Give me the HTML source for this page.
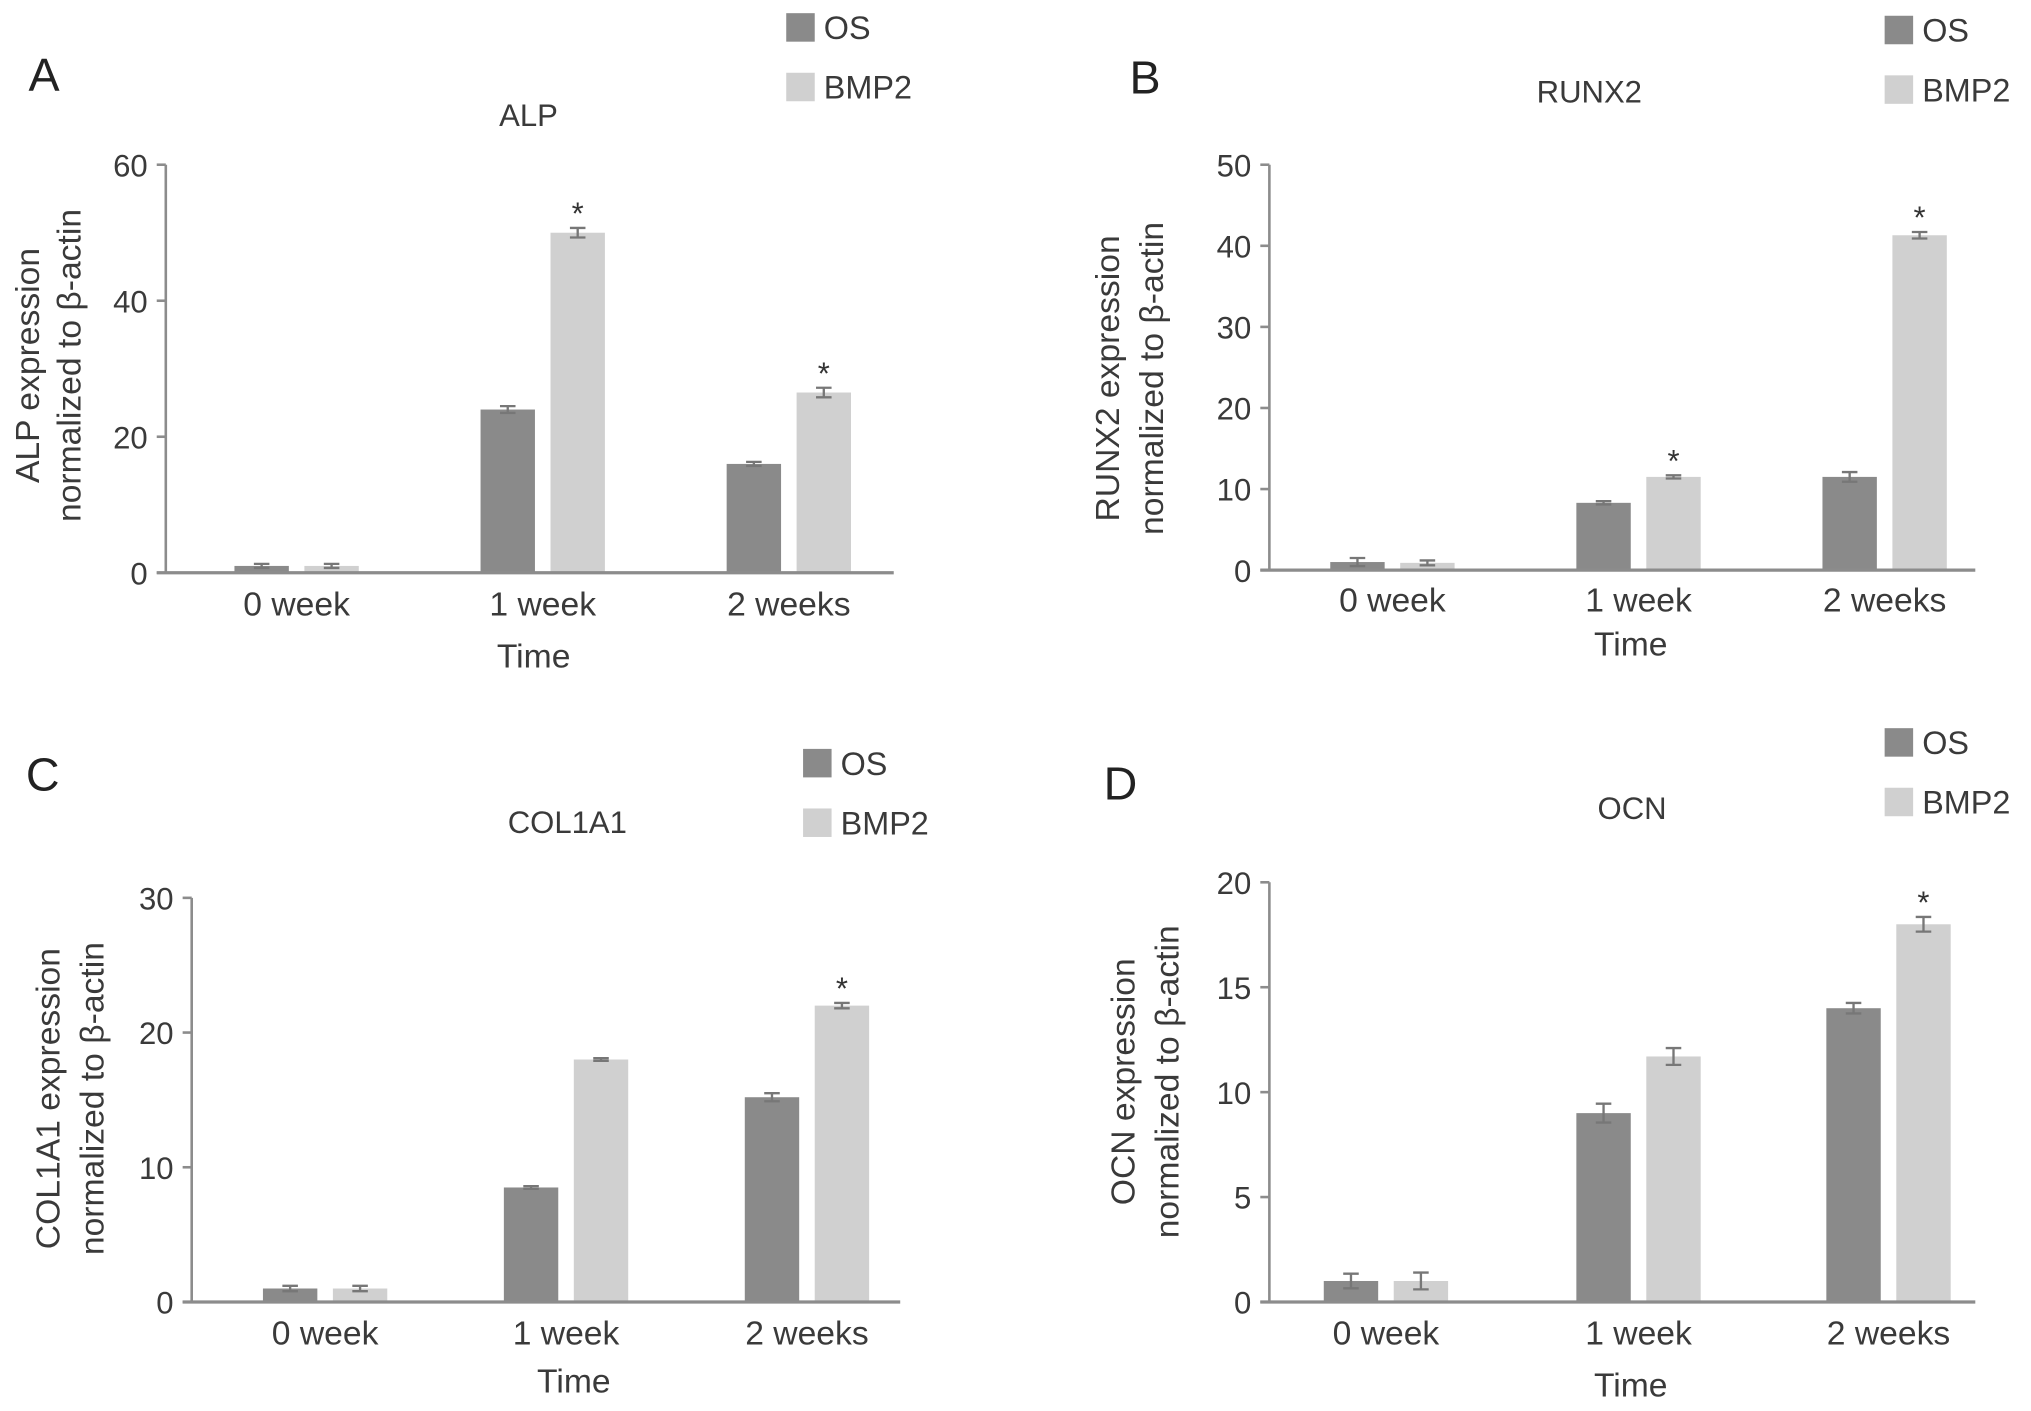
<!DOCTYPE html>
<html><head><meta charset="utf-8"><style>
html,body{margin:0;padding:0;background:#fff;}
svg{display:block;font-family:"Liberation Sans",sans-serif;}
</style></head><body>
<svg id="fig" width="2031" height="1411" viewBox="0 0 1568 1089" xmlns="http://www.w3.org/2000/svg"></svg>
<script>
const categories = ["0 week", "1 week", "2 weeks"];
const alpOS = [1, 24, 16];
const alpBMP = [1, 50, 26.5];
const alpOSErr = [0.3, 0.5, 0.3];
const alpBMPErr = [0.3, 0.7, 0.7];
const alpStars = [false, true, true];
const runxOS = [1, 8.3, 11.5];
const runxBMP = [0.9, 11.5, 41.3];
const runxOSErr = [0.5, 0.2, 0.6];
const runxBMPErr = [0.3, 0.2, 0.4];
const runxStars = [false, true, true];
const colOS = [1, 8.5, 15.2];
const colBMP = [1, 18, 22];
const colOSErr = [0.2, 0.1, 0.3];
const colBMPErr = [0.2, 0.1, 0.2];
const colStars = [false, false, true];
const ocnOS = [1, 9, 14];
const ocnBMP = [1, 11.7, 18];
const ocnOSErr = [0.35, 0.45, 0.25];
const ocnBMPErr = [0.4, 0.4, 0.35];
const ocnStars = [false, false, true];
const alpTicks = [0, 20, 40, 60];
const runxTicks = [0, 10, 20, 30, 40, 50];
const colTicks = [0, 10, 20, 30];
const ocnTicks = [0, 5, 10, 15, 20];

const NS = "http://www.w3.org/2000/svg";
const svg = document.getElementById("fig");
function mk(tag, attrs, parent, text) {
  const e = document.createElementNS(NS, tag);
  for (const k in attrs) e.setAttribute(k, attrs[k]);
  if (text !== undefined) e.textContent = text;
  (parent || svg).appendChild(e);
  return e;
}
const panels = [
  {id:"a", letter:"A", lx:22, ly:70, title:"ALP", tx:408, ty:97, ax:128, y0:442, yTop:127, xEnd:690, max:60, ticks:alpTicks,
   os:alpOS, bmp:alpBMP, osE:alpOSErr, bmpE:alpBMPErr, stars:alpStars, centers:[229,419,609], catY:475, timeX:412, timeY:515,
   legX:607, legY:10, ytx:[30,62], yty:282, yl1:"ALP expression"},
  {id:"b", letter:"B", lx:872, ly:72, title:"RUNX2", tx:1227, ty:79, ax:980, y0:440, yTop:127, xEnd:1525, max:50, ticks:runxTicks,
   os:runxOS, bmp:runxBMP, osE:runxOSErr, bmpE:runxBMPErr, stars:runxStars, centers:[1075,1265,1455], catY:472, timeX:1259, timeY:506,
   legX:1455, legY:12, ytx:[864,898], yty:292, yl1:"RUNX2 expression"},
  {id:"c", letter:"C", lx:20, ly:610, title:"COL1A1", tx:438, ty:643, ax:148, y0:1005, yTop:693, xEnd:695, max:30, ticks:colTicks,
   os:colOS, bmp:colBMP, osE:colOSErr, bmpE:colBMPErr, stars:colStars, centers:[251,437,623], catY:1038, timeX:443, timeY:1075,
   legX:620, legY:578, ytx:[46,80], yty:848, yl1:"COL1A1 expression"},
  {id:"d", letter:"D", lx:852, ly:617, title:"OCN", tx:1260, ty:632, ax:980, y0:1005, yTop:681, xEnd:1525, max:20, ticks:ocnTicks,
   os:ocnOS, bmp:ocnBMP, osE:ocnOSErr, bmpE:ocnBMPErr, stars:ocnStars, centers:[1070,1265,1458], catY:1038, timeX:1259, timeY:1078,
   legX:1455, legY:562, ytx:[876,910], yty:835, yl1:"OCN expression"}
];
const OSC = "#8a8a8a", BMPC = "#d0d0d0", AXC = "#8c8c8c", TXT = "#3a3a3a";
const BW = 42, GAP = 12;
panels.forEach(p => {
  const g = mk("g", {});
  
  
  const yS = v => p.y0 - (v / p.max) * (p.y0 - p.yTop);
  let t = mk("text", {x:p.lx, y:p.ly, "font-size":36, fill:"#222"}, g, p.letter);
  
  
  t = mk("text", {x:p.tx, y:p.ty, "font-size":24, fill:TXT, "text-anchor":"middle"}, g, p.title);
  
  
  [["OS", OSC], ["BMP2", BMPC]].forEach((L, i) => {
    const r = mk("rect", {x:p.legX, y:p.legY + i*46, width:22, height:22, fill:L[1]}, g);
    
    
    const lt = mk("text", {x:p.legX + 29, y:p.legY + i*46 + 20, "font-size":25, fill:TXT}, g, L[0]);
    
    
  });
  let a = mk("line", {x1:p.ax, y1:p.yTop, x2:p.ax, y2:p.y0, stroke:AXC, "stroke-width":2}, g);
  
  
  p.ticks.forEach(v => {
    const y = yS(v);
    mk("line", {x1:p.ax - 7, y1:y, x2:p.ax, y2:y, stroke:AXC, "stroke-width":2}, g);
    const tl = mk("text", {x:p.ax - 14, y:y + 9, "font-size":24, fill:TXT, "text-anchor":"end"}, g, String(v));
    
    
  });
  const yt = mk("text", {transform:`translate(${p.ytx[0]},${p.yty}) rotate(-90)`, "font-size":26, fill:TXT, "text-anchor":"middle"}, g, p.yl1);
  
  
  const yt2 = mk("text", {transform:`translate(${p.ytx[1]},${p.yty}) rotate(-90)`, "font-size":26, fill:TXT, "text-anchor":"middle"}, g, "normalized to β-actin");
  
  
  categories.forEach((c, i) => {
    const cx = p.centers[i];
    [[p.os[i], p.osE[i], OSC, cx - GAP/2 - BW, "os"], [p.bmp[i], p.bmpE[i], BMPC, cx + GAP/2, "bmp2"]].forEach(B => {
      const y = yS(B[0]);
      const r = mk("rect", {x:B[3], y:y, width:BW, height:p.y0 - y, fill:B[2]}, g);
      
      
      const ex = B[3] + BW/2, e1 = yS(B[0] + B[1]), e2 = yS(B[0] - B[1]);
      const eb = mk("path", {d:`M${ex},${e1}V${e2}M${ex-6},${e1}H${ex+6}M${ex-6},${e2}H${ex+6}`, stroke:"#777", "stroke-width":1.8, fill:"none"}, g);
      
      
      if (B[4] === "bmp2" && p.stars[i]) {
        const st = mk("text", {x:ex, y:e1 - 3, "font-size":24, fill:"#333", "text-anchor":"middle"}, g, "*");
        
        
      }
    });
    const cl = mk("text", {x:cx, y:p.catY, "font-size":26, fill:TXT, "text-anchor":"middle"}, g, c);
    
    
  });
  a = mk("line", {x1:p.ax - 7, y1:p.y0, x2:p.xEnd, y2:p.y0, stroke:AXC, "stroke-width":2.5}, g);
  
  
  const tt = mk("text", {x:p.timeX, y:p.timeY, "font-size":26, fill:TXT, "text-anchor":"middle"}, g, "Time");
  
  
});
</script>
</body></html>
